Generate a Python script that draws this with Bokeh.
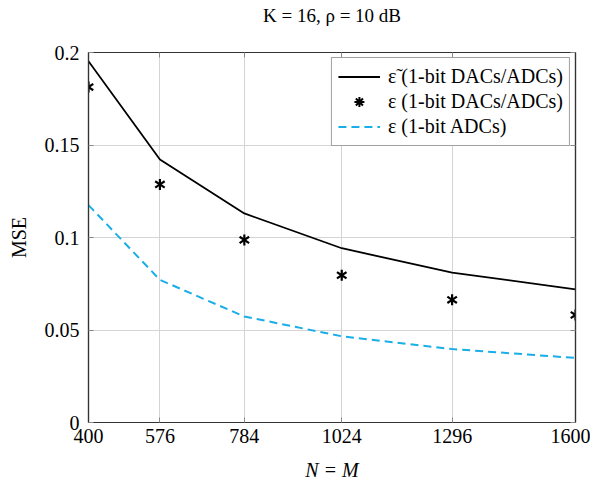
from bokeh.plotting import figure
from bokeh.models import (FixedTicker, CustomJSTickFormatter, Legend, LegendItem, Range1d,
                          LinearAxis)
from bokeh.embed import file_html
from bokeh.resources import INLINE

N_values = [400, 576, 784, 1024, 1296, 1600]
eps_tilde_dac_adc = [0.1953, 0.1422, 0.1130, 0.0942, 0.0810, 0.0720]
eps_dac_adc = [0.1813, 0.1287, 0.0987, 0.0796, 0.0663, 0.0581]
eps_adc = [0.1175, 0.0771, 0.0573, 0.0466, 0.0397, 0.0349]
y_ticks = [0, 0.05, 0.1, 0.15, 0.2]
title_text = "K = 16, ρ = 10 dB"

FONT = "Liberation Serif"
FS = "20px"

p = figure(width=590, height=483, output_backend="svg", toolbar_location=None,
           x_range=Range1d(400, 1600), y_range=Range1d(0, 0.2),
           min_border_left=88, min_border_right=15, min_border_top=52, min_border_bottom=60)

xax = p.below[0]
yax = p.left[0]
xax.ticker = FixedTicker(ticks=N_values)
yax.ticker = FixedTicker(ticks=y_ticks)
yax.formatter = CustomJSTickFormatter(code="return String(Math.round(tick*100)/100);")

# mirrored ticks on top and right (top axis carries the title text)
top_axis = LinearAxis(ticker=FixedTicker(ticks=N_values),
                      formatter=CustomJSTickFormatter(code="return '';"))
right_axis = LinearAxis(ticker=FixedTicker(ticks=y_ticks),
                        formatter=CustomJSTickFormatter(code="return '';"))
p.add_layout(top_axis, "above")
p.add_layout(right_axis, "right")

for ax in (xax, yax, top_axis, right_axis):
    ax.major_label_text_font = FONT
    ax.major_label_text_font_size = FS
    ax.major_label_text_color = "black"
    ax.axis_label_text_font = FONT
    ax.axis_label_text_font_size = FS
    ax.axis_label_text_color = "black"
    ax.major_tick_in = 5
    ax.major_tick_out = 0
    ax.major_tick_line_color = "#8a8a8a"
    ax.minor_tick_line_color = None
    ax.axis_line_color = "#333333"
    ax.axis_line_width = 1.2

for ax in (top_axis, right_axis):
    ax.major_label_standoff = 0
    ax.major_label_text_font_size = "0px"

top_axis.axis_label = title_text
top_axis.axis_label_text_font_size = "19px"
top_axis.axis_label_text_font_style = "normal"
top_axis.axis_label_standoff = 27

xax.axis_label = "N = M"
xax.axis_label_text_font_style = "italic"
xax.major_label_standoff = 6
xax.axis_label_standoff = 13
yax.axis_label = "MSE"
yax.axis_label_text_font_style = "normal"
yax.major_label_standoff = 9
yax.axis_label_standoff = 12

p.grid.grid_line_color = "#d4d4d4"
p.grid.grid_line_width = 1
p.outline_line_color = "#333333"
p.outline_line_width = 1.2

r1 = p.line(N_values, eps_tilde_dac_adc, line_color="black", line_width=1.8)
# 6-spoke asterisk = Y marker + inverted Y marker
r2 = p.scatter(N_values, eps_dac_adc, marker="y", size=11, line_color="black", line_width=2.2)
r2b = p.scatter(N_values, eps_dac_adc, marker="y", size=11, angle=3.14159265, line_color="black",
                line_width=2.2)
# legend-only glyph (legend cannot draw rotated markers)
r2_leg = p.scatter(N_values, eps_dac_adc, marker="asterisk", size=10, line_color="black",
                   line_width=2, visible=False)
r3 = p.line(N_values, eps_adc, line_color="#1AAEE8", line_width=2, line_dash="8 5")

legend = Legend(items=[
    LegendItem(label="ε̃ (1-bit DACs/ADCs)", renderers=[r1]),
    LegendItem(label="ε (1-bit DACs/ADCs)", renderers=[r2_leg]),
    LegendItem(label="ε (1-bit ADCs)", renderers=[r3]),
], location="top_right")
legend.label_text_font = FONT
legend.label_text_font_size = FS
legend.label_text_color = "black"
legend.glyph_width = 42
legend.glyph_height = 25
legend.label_standoff = 8
legend.spacing = 0
legend.padding = 6
legend.margin = 5
legend.border_line_color = "#444444"
legend.border_line_width = 1
legend.background_fill_alpha = 1
legend.inactive_fill_alpha = 0
legend.click_policy = "none"
p.add_layout(legend)

open("out.html", "w").write(file_html(p, INLINE))
